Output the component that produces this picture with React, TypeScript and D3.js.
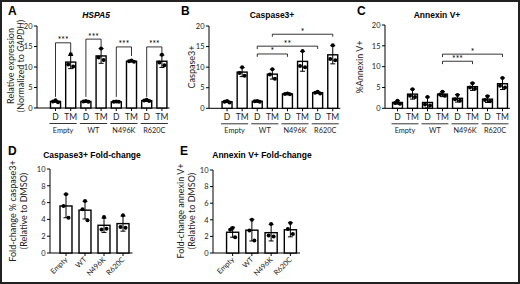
import React from "react";
import * as d3 from "d3";

// ---------- DATA ----------
const groups = ["Empty", "WT", "N496K", "R620C"];
const treatments = ["D", "TM"];
const groupedKeys = groups.flatMap((g) => treatments.map((t) => `${g}-${t}`));

const ticks20 = [0, 5, 10, 15, 20];
const ticks10 = [0, 2, 4, 6, 8, 10];

// Panel A: HSPA5 (order: Empty-D, Empty-TM, WT-D, WT-TM, N496K-D, N496K-TM, R620C-D, R620C-TM)
const hspa5Mean = [1.6, 11.2, 1.6, 12.7, 1.5, 11.4, 1.8, 11.4];
const hspa5Sd = [0.2, 1.6, 0.1, 1.8, 0.1, 0.15, 0.15, 1.5];
const hspa5Pts = [
  [1.9, 1.6, 1.4], [13.1, 10.6, 10.1], [1.7, 1.6, 1.5], [14.5, 12.3, 11.7],
  [1.6, 1.5, 1.5], [11.6, 11.4, 11.3], [2.0, 1.8, 1.7], [13.0, 11.1, 10.4],
];
const hspa5Sig = [
  { from: 0, to: 1, label: "***", top: 15.9, leftEnd: 2.7, rightEnd: 13.4 },
  { from: 2, to: 3, label: "***", top: 16.8, leftEnd: 2.7, rightEnd: 14.9 },
  { from: 4, to: 5, label: "***", top: 14.9, leftEnd: 2.7, rightEnd: 12.7 },
  { from: 6, to: 7, label: "***", top: 14.9, leftEnd: 2.7, rightEnd: 13.4 },
];

// Panel B: Caspase3+
const caspMean = [1.6, 8.8, 1.7, 8.3, 3.5, 11.4, 3.8, 13.0];
const caspSd = [0.2, 1.1, 0.15, 1.2, 0.15, 2.4, 0.2, 2.2];
const caspPts = [
  [1.8, 1.6, 1.4], [10.0, 8.6, 7.9], [1.8, 1.7, 1.6], [9.5, 8.2, 7.2],
  [3.6, 3.5, 3.4], [13.9, 10.3, 10.0], [4.0, 3.8, 3.6], [15.3, 12.0, 11.7],
];
const caspSig = [
  { from: 2, to: 4, label: "*", top: 13.2, leftEnd: 12.5, rightEnd: 12.5 },
  { from: 2, to: 6, label: "**", top: 15.1, leftEnd: 14.4, rightEnd: 14.4 },
  { from: 3, to: 7, label: "*", top: 18.0, leftEnd: 17.4, rightEnd: 17.4 },
];

// Panel C: Annexin V+
const annexMean = [1.4, 3.4, 1.4, 3.4, 2.4, 5.2, 2.2, 5.9];
const annexSd = [0.4, 1.2, 1.3, 0.6, 0.9, 0.9, 0.8, 1.4];
const annexPts = [
  [1.8, 1.3, 1.1], [4.6, 3.0, 2.7], [2.7, 0.9, 0.7], [4.0, 3.3, 3.0],
  [3.2, 2.2, 1.8], [6.0, 5.0, 4.7], [2.9, 2.0, 1.7], [7.3, 5.4, 5.0],
];
const annexSig = [
  { from: 3, to: 7, label: "*", top: 13.0, leftEnd: 12.3, rightEnd: 12.3 },
  { from: 3, to: 5, label: "***", top: 11.3, leftEnd: 10.6, rightEnd: 10.6 },
];

// Panel D: Caspase3+ fold-change
const foldCaspMean = [5.6, 5.1, 3.3, 3.5];
const foldCaspSd = [1.4, 1.05, 0.85, 0.9];
const foldCaspPts = [[7.0, 5.6, 4.2], [6.2, 5.2, 3.9], [4.3, 2.8, 2.9], [4.5, 3.1, 3.0]];

// Panel E: Annexin V+ fold-change
const foldAnnexMean = [2.5, 2.75, 2.45, 2.8];
const foldAnnexSd = [0.6, 1.3, 1.0, 0.85];
const foldAnnexPts = [[3.0, 2.8, 1.9], [4.0, 2.7, 1.5], [3.5, 2.1, 2.0], [3.6, 2.9, 2.3]];

// ---------- STYLE ----------
const FONT = "Lato, 'Open Sans', sans-serif";
const BOLD = "'Liberation Sans', Arial, sans-serif";
const jitter = [0, -2.5, 2.5];

type Sig = { from: number; to: number; label: string; top: number; leftEnd: number; rightEnd: number };

function Bars({ x, y, keys, mean, sd, pts }: any) {
  const bw = x.bandwidth();
  return (
    <g>
      {keys.map((k: string, i: number) => {
        const cx = x(k)! + bw / 2;
        return (
          <g key={k}>
            <rect x={x(k)} y={y(mean[i])} width={bw} height={y(0) - y(mean[i])} fill="#fff" stroke="#000" strokeWidth={1.4} />
            <line x1={cx} x2={cx} y1={y(mean[i] - sd[i])} y2={y(mean[i] + sd[i])} stroke="#000" strokeWidth={1} />
            <line x1={cx - 2.5} x2={cx + 2.5} y1={y(mean[i] + sd[i])} y2={y(mean[i] + sd[i])} stroke="#000" strokeWidth={1} />
            <line x1={cx - 2.5} x2={cx + 2.5} y1={y(mean[i] - sd[i])} y2={y(mean[i] - sd[i])} stroke="#000" strokeWidth={1} />
            {pts[i].map((p: number, j: number) => (
              <circle key={j} cx={cx + jitter[j]} cy={y(p)} r={2} fill="#000" />
            ))}
          </g>
        );
      })}
    </g>
  );
}

function YAxis({ y, ax, ticks }: any) {
  const [r0, r1] = y.range();
  return (
    <g>
      <line x1={ax} x2={ax} y1={r0} y2={r1} stroke="#000" strokeWidth={1} />
      {ticks.map((t: number) => (
        <g key={t}>
          <line x1={ax - 3} x2={ax} y1={y(t)} y2={y(t)} stroke="#000" strokeWidth={1} />
          <text x={ax - 4.5} y={y(t) + 2.7} fontSize={7.5} fontFamily={FONT} textAnchor="end" fill="#222">{t}</text>
        </g>
      ))}
    </g>
  );
}

function GroupedPanel({ letter, letterX, title, titleItalic, titleX, ax, x0, x1, y0, yTop, mean, sd, pts, sig, yTitle }: any) {
  const x = d3.scaleBand<string>().domain(groupedKeys).range([x0, x1]).paddingInner(0.34).paddingOuter(0.17);
  const y = d3.scaleLinear().domain([0, 20]).range([y0, yTop]);
  const bw = x.bandwidth();
  const c = (i: number) => x(groupedKeys[i])! + bw / 2;
  return (
    <g>
      <text x={letterX} y={15} fontSize={12} fontWeight="bold" fontFamily={BOLD}>{letter}</text>
      <text x={titleX} y={18} fontSize={8.5} fontWeight="bold" fontStyle={titleItalic ? "italic" : "normal"} fontFamily={BOLD} textAnchor="middle">{title}</text>
      {yTitle}
      <YAxis y={y} ax={ax} ticks={ticks20} />
      <line x1={ax} x2={x1} y1={y0} y2={y0} stroke="#000" strokeWidth={1} />
      {groupedKeys.map((k, i) => (
        <g key={k}>
          <line x1={c(i)} x2={c(i)} y1={y0} y2={y0 + 3} stroke="#000" strokeWidth={1} />
          <text x={c(i)} y={y0 + 11.5} fontSize={8.5} fontFamily={FONT} textAnchor="middle" fill="#222">{treatments[i % 2]}</text>
        </g>
      ))}
      {groups.map((g, gi) => {
        const l = x(groupedKeys[gi * 2])! - 1;
        const r = x(groupedKeys[gi * 2 + 1])! + bw + 1;
        return (
          <g key={g}>
            <line x1={l} x2={r} y1={y0 + 15.5} y2={y0 + 15.5} stroke="#000" strokeWidth={0.8} />
            <text x={(l + r) / 2} y={y0 + 24.5} fontSize={7.3} fontFamily={FONT} textAnchor="middle" fill="#222">{g}</text>
          </g>
        );
      })}
      <Bars x={x} y={y} keys={groupedKeys} mean={mean} sd={sd} pts={pts} />
      {sig.map((s: Sig, i: number) => (
        <g key={i}>
          <path d={`M${c(s.from)},${y(s.leftEnd)}V${y(s.top)}H${c(s.to)}V${y(s.rightEnd)}`} fill="none" stroke="#000" strokeWidth={0.8} />
          <text x={(c(s.from) + c(s.to)) / 2} y={y(s.top) + 0.5} fontSize={8.5} fontFamily={FONT} textAnchor="middle">{s.label}</text>
        </g>
      ))}
    </g>
  );
}

function FoldPanel({ letter, letterX, title, titleX, ax, x0, x1, y0, yTop, mean, sd, pts, yTitle }: any) {
  const x = d3.scaleBand<string>().domain(groups).range([x0, x1]).paddingInner(0.37).paddingOuter(0.185);
  const y = d3.scaleLinear().domain([0, 10]).range([y0, yTop]);
  const bw = x.bandwidth();
  return (
    <g>
      <text x={letterX} y={155} fontSize={12} fontWeight="bold" fontFamily={BOLD}>{letter}</text>
      <text x={titleX} y={158} fontSize={8.5} fontWeight="bold" fontFamily={BOLD} textAnchor="middle">{title}</text>
      {yTitle}
      <YAxis y={y} ax={ax} ticks={ticks10} />
      <line x1={ax} x2={x1} y1={y0} y2={y0} stroke="#000" strokeWidth={1} />
      {groups.map((g) => {
        const cx = x(g)! + bw / 2;
        return (
          <g key={g}>
            <line x1={cx} x2={cx} y1={y0} y2={y0 + 3} stroke="#000" strokeWidth={1} />
            <text transform={`translate(${cx + 2},${y0 + 7}) rotate(-45)`} fontSize={7.3} fontFamily={FONT} textAnchor="end" fill="#222">{g}</text>
          </g>
        );
      })}
      <Bars x={x} y={y} keys={groups} mean={mean} sd={sd} pts={pts} />
    </g>
  );
}

function YTitle({ x, y, lines, gap = 11 }: { x: number; y: number; lines: React.ReactNode[]; gap?: number }) {
  return (
    <g transform={`translate(${x},${y}) rotate(-90)`}>
      {lines.map((l, i) => (
        <text key={i} x={0} y={i * gap} fontSize={9} fontFamily={FONT} textAnchor="middle" fill="#222">{l}</text>
      ))}
    </g>
  );
}

export default function App() {
  return (
    <svg width={520} height={284} style={{ position: "absolute", left: 0, top: 0, background: "#fff" }}>
      <rect x={1} y={1} width={518} height={282} fill="#fff" stroke="#222" strokeWidth={2} />
      <GroupedPanel
        letter="A" letterX={8} title="HSPA5" titleItalic titleX={96}
        ax={37} x0={47.9} x1={169.5} y0={108} yTop={26}
        mean={hspa5Mean} sd={hspa5Sd} pts={hspa5Pts} sig={hspa5Sig}
        yTitle={<YTitle x={13.5} y={66} gap={10.5} lines={["Relative expression", <>(Normalized to <tspan fontStyle="italic">GAPDH</tspan>)</>]} />}
      />
      <GroupedPanel
        letter="B" letterX={181} title="Caspase3+" titleX={272}
        ax={209} x0={219.5} x1={340.3} y0={108.3} yTop={26}
        mean={caspMean} sd={caspSd} pts={caspPts} sig={caspSig}
        yTitle={<YTitle x={195} y={67} lines={["Caspase3+"]} />}
      />
      <GroupedPanel
        letter="C" letterX={357} title="Annexin V+" titleX={437}
        ax={385} x0={390} x1={510} y0={108.3} yTop={25}
        mean={annexMean} sd={annexSd} pts={annexPts} sig={annexSig}
        yTitle={<YTitle x={363} y={67} lines={["%Annexin V+"]} />}
      />
      <FoldPanel
        letter="D" letterX={8} title="Caspase3+ Fold-change" titleX={92}
        ax={50} x0={56.5} x1={132.5} y0={253} yTop={169}
        mean={foldCaspMean} sd={foldCaspSd} pts={foldCaspPts}
        yTitle={<YTitle x={16} y={211} gap={10.5} lines={["Fold-change % caspase3+", "(Relative to DMSO)"]} />}
      />
      <FoldPanel
        letter="E" letterX={180} title="Annexin V+ Fold-change" titleX={262}
        ax={213} x0={223} x1={300} y0={253} yTop={170}
        mean={foldAnnexMean} sd={foldAnnexSd} pts={foldAnnexPts}
        yTitle={<YTitle x={184} y={211} gap={10.5} lines={["Fold-change annexin V+", "(Relative to DMSO)"]} />}
      />
    </svg>
  );
}
